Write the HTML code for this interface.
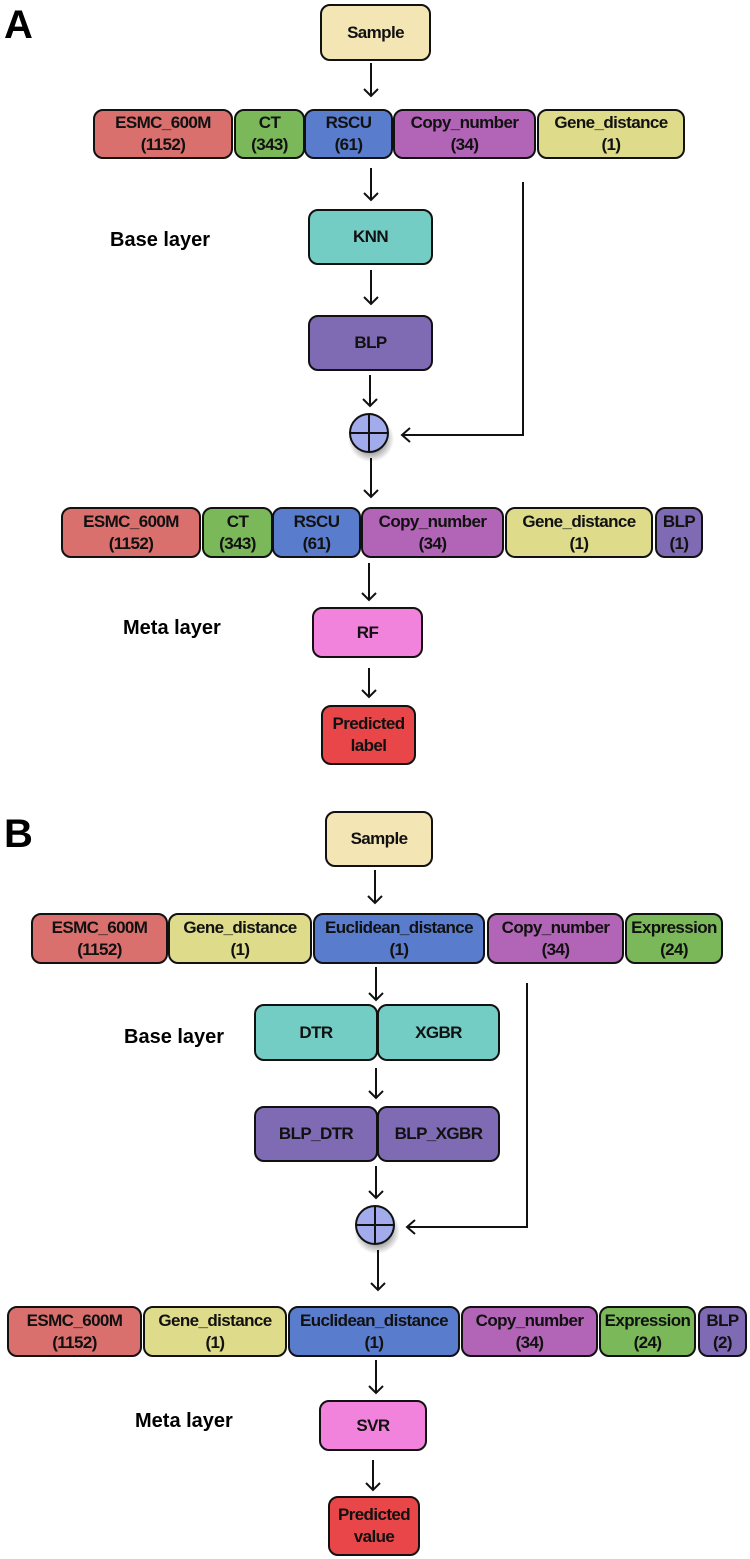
<!DOCTYPE html>
<html><head><meta charset="utf-8"><style>
html,body{margin:0;padding:0;background:#fff;}
body{width:750px;height:1559px;position:relative;overflow:hidden;font-family:"Liberation Sans",sans-serif;}
.b{position:absolute;box-sizing:border-box;border:2px solid #111;border-radius:10px;display:flex;align-items:center;justify-content:center;text-align:center;font-size:17px;line-height:22px;color:#111;font-weight:bold;letter-spacing:-0.6px;white-space:nowrap;}
.L{position:absolute;font-weight:bold;font-size:20px;color:#000;}
.P{position:absolute;font-weight:bold;font-size:40px;color:#000;}
.r{background:#d9706e}.g{background:#7ab85a}.bl{background:#5a7ccd}.p{background:#b264b6}.y{background:#dedc8b}
.s{background:#f3e5b4}.t{background:#74cdc4}.v{background:#7e6bb4}.k{background:#f283dd}.rd{background:#e84648}
svg{position:absolute;left:0;top:0}
</style></head><body>
<div class="P" style="left:4px;top:3px">A</div>
<div class="P" style="left:4px;top:812px">B</div>

<div class="b s" style="left:320px;top:4px;width:111px;height:57px">Sample</div>
<div class="b r" style="left:93px;top:109px;width:140px;height:50px">ESMC_600M<br>(1152)</div>
<div class="b g" style="left:234px;top:109px;width:71px;height:50px">CT<br>(343)</div>
<div class="b bl" style="left:304px;top:109px;width:89px;height:50px">RSCU<br>(61)</div>
<div class="b p" style="left:393px;top:109px;width:143px;height:50px">Copy_number<br>(34)</div>
<div class="b y" style="left:537px;top:109px;width:148px;height:50px">Gene_distance<br>(1)</div>
<div class="L" style="left:110px;top:229px">Base layer</div>
<div class="b t" style="left:308px;top:209px;width:125px;height:56px">KNN</div>
<div class="b v" style="left:308px;top:315px;width:125px;height:56px">BLP</div>
<div class="b r" style="left:61px;top:507px;width:140px;height:51px">ESMC_600M<br>(1152)</div>
<div class="b g" style="left:202px;top:507px;width:71px;height:51px">CT<br>(343)</div>
<div class="b bl" style="left:272px;top:507px;width:89px;height:51px">RSCU<br>(61)</div>
<div class="b p" style="left:361px;top:507px;width:143px;height:51px">Copy_number<br>(34)</div>
<div class="b y" style="left:505px;top:507px;width:148px;height:51px">Gene_distance<br>(1)</div>
<div class="b v" style="left:655px;top:507px;width:48px;height:51px">BLP<br>(1)</div>
<div class="L" style="left:123px;top:617px">Meta layer</div>
<div class="b k" style="left:312px;top:607px;width:111px;height:51px">RF</div>
<div class="b rd" style="left:321px;top:705px;width:95px;height:60px">Predicted<br>label</div>

<div class="b s" style="left:325px;top:811px;width:108px;height:56px">Sample</div>
<div class="b r" style="left:31px;top:913px;width:137px;height:51px">ESMC_600M<br>(1152)</div>
<div class="b y" style="left:168px;top:913px;width:144px;height:51px">Gene_distance<br>(1)</div>
<div class="b bl" style="left:313px;top:913px;width:172px;height:51px">Euclidean_distance<br>(1)</div>
<div class="b p" style="left:487px;top:913px;width:137px;height:51px">Copy_number<br>(34)</div>
<div class="b g" style="left:625px;top:913px;width:98px;height:51px">Expression<br>(24)</div>
<div class="L" style="left:124px;top:1026px">Base layer</div>
<div class="b t" style="left:254px;top:1004px;width:124px;height:57px">DTR</div>
<div class="b t" style="left:377px;top:1004px;width:123px;height:57px">XGBR</div>
<div class="b v" style="left:254px;top:1106px;width:124px;height:56px">BLP_DTR</div>
<div class="b v" style="left:377px;top:1106px;width:123px;height:56px">BLP_XGBR</div>
<div class="b r" style="left:7px;top:1306px;width:135px;height:51px">ESMC_600M<br>(1152)</div>
<div class="b y" style="left:143px;top:1306px;width:144px;height:51px">Gene_distance<br>(1)</div>
<div class="b bl" style="left:288px;top:1306px;width:172px;height:51px">Euclidean_distance<br>(1)</div>
<div class="b p" style="left:461px;top:1306px;width:137px;height:51px">Copy_number<br>(34)</div>
<div class="b g" style="left:599px;top:1306px;width:97px;height:51px">Expression<br>(24)</div>
<div class="b v" style="left:698px;top:1306px;width:49px;height:51px">BLP<br>(2)</div>
<div class="L" style="left:135px;top:1410px">Meta layer</div>
<div class="b k" style="left:319px;top:1400px;width:108px;height:51px">SVR</div>
<div class="b rd" style="left:328px;top:1496px;width:92px;height:60px">Predicted<br>value</div>

<svg width="750" height="1559" viewBox="0 0 750 1559">
<defs>
<radialGradient id="sh"><stop offset="0.6" stop-color="#000" stop-opacity="0.35"/><stop offset="1" stop-color="#000" stop-opacity="0"/></radialGradient>
</defs>
<g stroke="#111" stroke-width="2" fill="none">
<path d="M371 63V96M364 89L371 96L378 89"/>
<path d="M371 168V200M364 193L371 200L378 193"/>
<path d="M371 270V304M364 297L371 304L378 297"/>
<path d="M370 375V406M363 399L370 406L377 399"/>
<path d="M523 182V435H402M410 428L402 435L410 442"/>
<path d="M371 458V497M364 490L371 497L378 490"/>
<path d="M369 563V600M362 593L369 600L376 593"/>
<path d="M369 668V697M362 690L369 697L376 690"/>

<path d="M375 870V903M368 896L375 903L382 896"/>
<path d="M376 967V1000M369 993L376 1000L383 993"/>
<path d="M376 1068V1098M369 1091L376 1098L383 1091"/>
<path d="M376 1166V1198M369 1191L376 1198L383 1191"/>
<path d="M527 983V1227H407M415 1220L407 1227L415 1234"/>
<path d="M378 1250V1290M371 1283L378 1290L385 1283"/>
<path d="M376 1360V1393M369 1386L376 1393L383 1386"/>
<path d="M373 1460V1490M366 1483L373 1490L380 1483"/>
</g>
<circle cx="371" cy="439" r="23" fill="url(#sh)"/>
<circle cx="369" cy="433" r="19" fill="#a2acec" stroke="#111" stroke-width="2"/>
<path d="M369 414V452M350 433H388" stroke="#111" stroke-width="2"/>
<circle cx="377" cy="1231" r="23" fill="url(#sh)"/>
<circle cx="375" cy="1225" r="19" fill="#a2acec" stroke="#111" stroke-width="2"/>
<path d="M375 1206V1244M356 1225H394" stroke="#111" stroke-width="2"/>
</svg>
</body></html>
